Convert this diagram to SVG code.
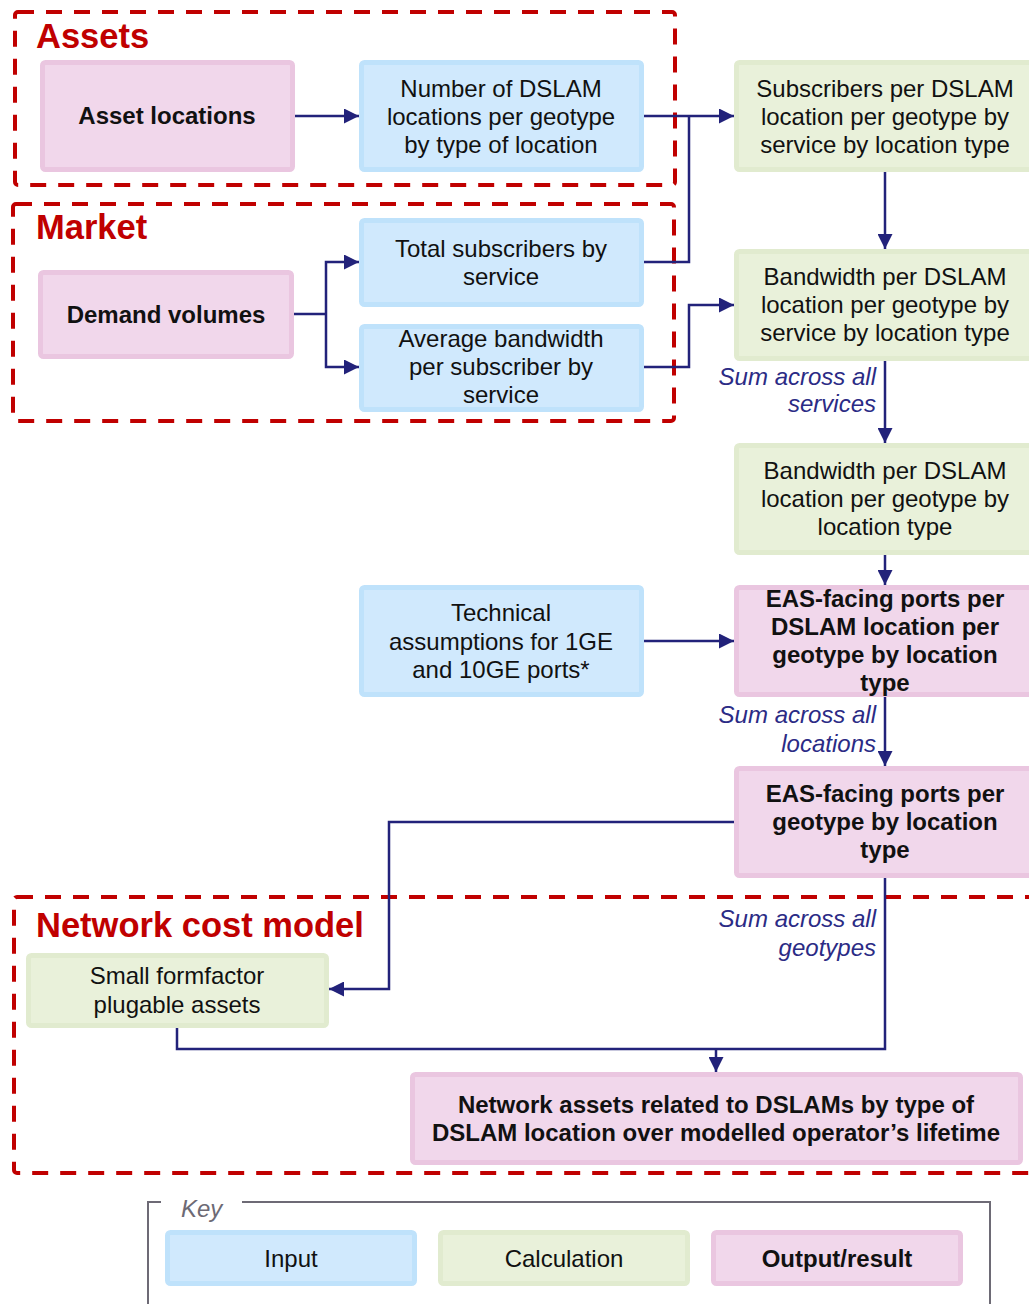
<svg xmlns="http://www.w3.org/2000/svg" width="1029" height="1304" viewBox="0 0 1029 1304">
  <defs>
    <marker id="arrow" markerUnits="userSpaceOnUse" markerWidth="15" markerHeight="15" refX="15" refY="7.5" orient="auto">
      <path d="M0,0 L15,7.5 L0,15 z" fill="#22227a"/>
    </marker>
    <style>
      text { font-family: "Liberation Sans", Arial, sans-serif; font-size: 24px; fill: #111; text-anchor: middle; }
      .bold { font-weight: bold; }
      .title { font-size: 34.5px; font-weight: bold; fill: #c00000; text-anchor: start; }
      .note { font-style: italic; fill: #2b2b85; text-anchor: end; }
      .keylabel { font-style: italic; fill: #6d6a75; text-anchor: start; }
      .zone { fill: none; stroke: #c00000; stroke-width: 4; stroke-dasharray: 16 12; }
      .input { fill: #d0e9fd; stroke: #bfe2fb; stroke-width: 5; }
      .calc { fill: #e9f1da; stroke: #e1ebcf; stroke-width: 5; }
      .output { fill: #f1d7eb; stroke: #eac6e0; stroke-width: 5; }
      .link { fill: none; stroke: #22227a; stroke-width: 2.5; }
      .keyframe { fill: none; stroke: #6d6a75; stroke-width: 2; }
    </style>
  </defs>

  <!-- dashed model zones -->
  <g id="zones">
    <rect class="zone" x="15" y="12" width="660" height="173" rx="3"/>
    <text class="title" x="36" y="48">Assets</text>
    <rect class="zone" x="13" y="204" width="661" height="217" rx="3"/>
    <text class="title" x="36" y="239">Market</text>
    <rect class="zone" x="14" y="897" width="1030" height="276" rx="3"/>
    <text class="title" x="36" y="937">Network cost model</text>
  </g>

  <!-- connectors -->
  <g id="connectors">
    <path class="link" d="M293,116 H359" marker-end="url(#arrow)"/>
    <path class="link" d="M643,116 H734" marker-end="url(#arrow)"/>
    <path class="link" d="M643,262 H689 V116"/>
    <path class="link" d="M293,314 H326"/>
    <path class="link" d="M326,314 V262 H359" marker-end="url(#arrow)"/>
    <path class="link" d="M326,314 V367 H359" marker-end="url(#arrow)"/>
    <path class="link" d="M643,367 H689 V305 H734" marker-end="url(#arrow)"/>
    <path class="link" d="M885,171 V249" marker-end="url(#arrow)"/>
    <path class="link" d="M885,360 V443" marker-end="url(#arrow)"/>
    <path class="link" d="M885,555 V585" marker-end="url(#arrow)"/>
    <path class="link" d="M643,641 H734" marker-end="url(#arrow)"/>
    <path class="link" d="M885,697 V766" marker-end="url(#arrow)"/>
    <path class="link" d="M734,822 H389 V989 H329" marker-end="url(#arrow)"/>
    <path class="link" d="M885,877 V1049 H177 V1027"/>
    <path class="link" d="M716,1049 V1072" marker-end="url(#arrow)"/>
    <text class="note" x="876" y="385">Sum across all</text>
    <text class="note" x="876" y="412">services</text>
    <text class="note" x="876" y="723">Sum across all</text>
    <text class="note" x="876" y="752">locations</text>
    <text class="note" x="876" y="927">Sum across all</text>
    <text class="note" x="876" y="956">geotypes</text>
  </g>

  <!-- nodes -->
  <g id="asset-locations">
    <rect class="output" x="42.5" y="62.5" width="250" height="107" rx="3"/>
    <text class="bold" x="167" y="124">Asset locations</text>
  </g>
  <g id="dslam-locations">
    <rect class="input" x="361.5" y="62.5" width="280" height="107" rx="3"/>
    <text x="501" y="97">Number of DSLAM</text>
    <text x="501" y="125">locations per geotype</text>
    <text x="501" y="153">by type of location</text>
  </g>
  <g id="subscribers-per-location">
    <rect class="calc" x="736.5" y="62.5" width="297" height="107" rx="3"/>
    <text x="885" y="97">Subscribers per DSLAM</text>
    <text x="885" y="125">location per geotype by</text>
    <text x="885" y="153">service by location type</text>
  </g>
  <g id="demand-volumes">
    <rect class="output" x="40.5" y="272.5" width="251" height="84" rx="3"/>
    <text class="bold" x="166" y="322.5">Demand volumes</text>
  </g>
  <g id="total-subscribers">
    <rect class="input" x="361.5" y="220.5" width="280" height="84" rx="3"/>
    <text x="501" y="257">Total subscribers by</text>
    <text x="501" y="285">service</text>
  </g>
  <g id="average-bandwidth">
    <rect class="input" x="361.5" y="326.5" width="280" height="83" rx="3"/>
    <text x="501" y="347">Average bandwidth</text>
    <text x="501" y="375">per subscriber by</text>
    <text x="501" y="403">service</text>
  </g>
  <g id="bandwidth-by-service">
    <rect class="calc" x="736.5" y="251.5" width="297" height="107" rx="3"/>
    <text x="885" y="285">Bandwidth per DSLAM</text>
    <text x="885" y="313">location per geotype by</text>
    <text x="885" y="341">service by location type</text>
  </g>
  <g id="bandwidth-by-location">
    <rect class="calc" x="736.5" y="445.5" width="297" height="107" rx="3"/>
    <text x="885" y="479">Bandwidth per DSLAM</text>
    <text x="885" y="507">location per geotype by</text>
    <text x="885" y="535">location type</text>
  </g>
  <g id="technical-assumptions">
    <rect class="input" x="361.5" y="587.5" width="280" height="107" rx="3"/>
    <text x="501" y="621">Technical</text>
    <text x="501" y="650">assumptions for 1GE</text>
    <text x="501" y="678">and 10GE ports*</text>
  </g>
  <g id="eas-ports-per-location">
    <rect class="output" x="736.5" y="587.5" width="297" height="107" rx="3"/>
    <text class="bold" x="885" y="607">EAS-facing ports per</text>
    <text class="bold" x="885" y="635">DSLAM location per</text>
    <text class="bold" x="885" y="663">geotype by location</text>
    <text class="bold" x="885" y="691">type</text>
  </g>
  <g id="eas-ports-per-geotype">
    <rect class="output" x="736.5" y="768.5" width="297" height="107" rx="3"/>
    <text class="bold" x="885" y="802">EAS-facing ports per</text>
    <text class="bold" x="885" y="830">geotype by location</text>
    <text class="bold" x="885" y="858">type</text>
  </g>
  <g id="sff-assets">
    <rect class="calc" x="28.5" y="955.5" width="298" height="70" rx="3"/>
    <text x="177" y="984">Small formfactor</text>
    <text x="177" y="1012.5">plugable assets</text>
  </g>
  <g id="network-assets">
    <rect class="output" x="412.5" y="1074.5" width="608" height="88" rx="3"/>
    <text class="bold" x="716" y="1112.5">Network assets related to DSLAMs by type of</text>
    <text class="bold" x="716" y="1140.5">DSLAM location over modelled operator’s lifetime</text>
  </g>

  <!-- legend -->
  <g id="key">
    <path class="keyframe" d="M161,1202 H148 V1310 M242,1202 H990 V1310"/>
    <text class="keylabel" x="181" y="1217">Key</text>
    <rect class="input" x="167.5" y="1232.5" width="247" height="51" rx="3"/>
    <text x="291" y="1267">Input</text>
    <rect class="calc" x="440.5" y="1232.5" width="247" height="51" rx="3"/>
    <text x="564" y="1267">Calculation</text>
    <rect class="output" x="713.5" y="1232.5" width="247" height="51" rx="3"/>
    <text class="bold" x="837" y="1267">Output/result</text>
  </g>
</svg>
